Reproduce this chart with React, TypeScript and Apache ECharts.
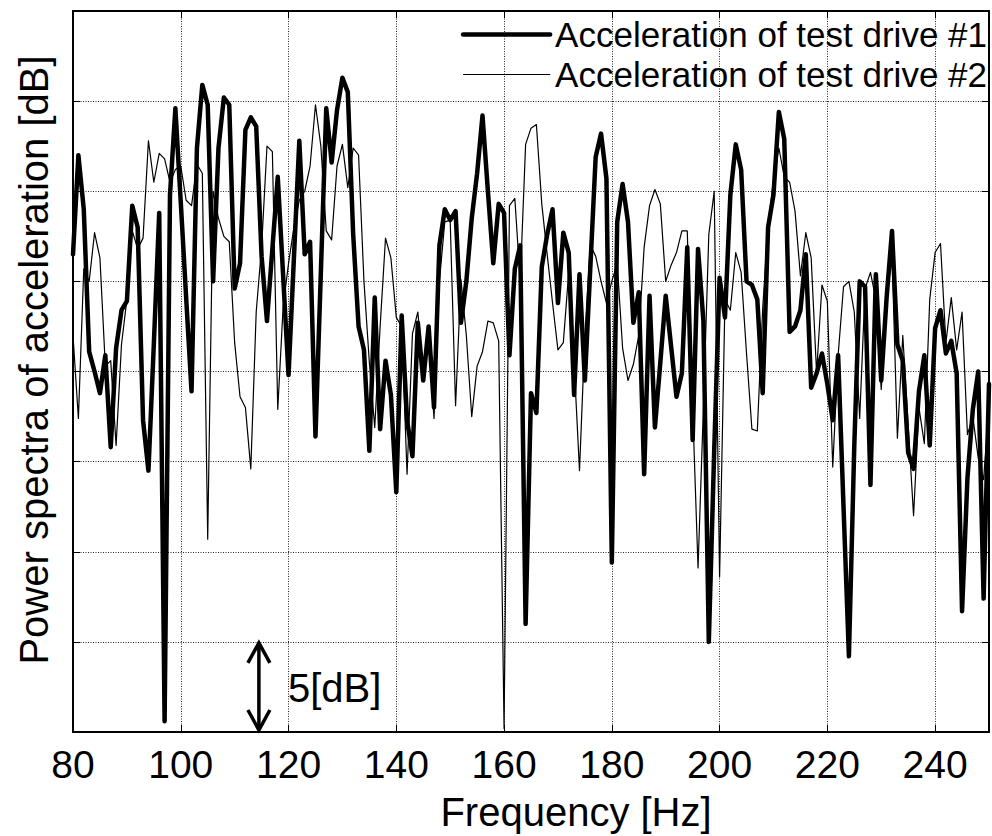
import React, { useEffect, useRef } from 'react';
import * as echarts from 'echarts';

// Frequency axis: one value per 1 Hz starting at 80 Hz
const FREQ_START = 80;
const FREQ_STEP = 1;

// Power spectra [dB] (relative), acceleration of test drive #1 (thick line)
const drive1 = [
  26.5, 32.0, 29.0, 21.1, 20.0, 18.8, 20.9, 15.8, 21.3, 23.4, // 80-89
  23.9, 29.2, 28.0, 17.3, 14.5, 21.5, 28.8, 0.6, 29.8, 34.6, // 90-99
  29.4, 24.1, 18.9, 32.4, 35.9, 34.8, 25.0, 32.4, 35.2, 34.8, // 100-109
  24.6, 26.0, 33.4, 34.1, 33.6, 26.4, 22.8, 26.8, 30.8, 25.3, // 110-119
  19.8, 26.3, 32.8, 26.5, 27.2, 16.4, 25.5, 34.6, 31.6, 34.5, // 120-129
  36.3, 35.5, 27.6, 22.5, 21.2, 15.6, 24.1, 16.8, 20.6, 18.7, // 130-139
  13.3, 23.1, 17.3, 15.3, 22.7, 19.5, 22.5, 18.0, 27.0, 29.0, // 140-149
  28.4, 28.9, 22.7, 25.0, 28.5, 31.0, 34.2, 30.0, 26.0, 29.3, // 150-159
  28.8, 20.9, 25.7, 27.0, 6.0, 18.8, 17.7, 25.8, 27.6, 29.0, // 160-169
  23.8, 27.7, 26.6, 18.7, 25.4, 19.5, 25.7, 31.9, 33.2, 30.7, // 170-179
  9.4, 28.3, 30.4, 28.3, 22.7, 24.4, 14.3, 24.2, 16.9, 20.5, // 180-189
  24.2, 21.4, 18.6, 19.9, 26.9, 16.2, 26.8, 22.8, 5.0, 15.6, // 190-199
  25.2, 23.0, 29.8, 32.6, 31.2, 25.0, 24.8, 24.0, 18.8, 28.0, // 200-209
  29.8, 34.4, 32.9, 22.2, 22.5, 23.4, 26.5, 19.1, 19.9, 21.0, // 210-219
  19.3, 17.3, 20.9, 12.5, 4.2, 15.9, 25.0, 24.7, 13.7, 25.4, // 220-229
  19.5, 24.1, 27.8, 21.5, 20.6, 15.5, 14.6, 18.9, 20.9, 15.9, // 230-239
  22.4, 23.4, 21.0, 21.7, 19.9, 6.7, 14.1, 17.9, 20.0, 7.4, // 240-249
  19.3, // 250
];

// Acceleration of test drive #2 (thin line)
const drive2 = [
  22.0, 17.4, 25.7, 25.0, 27.7, 26.3, 20.3, 20.6, 15.9, 21.5, // 80-89
  24.0, 27.8, 26.8, 27.4, 32.8, 30.5, 32.1, 31.8, 30.5, 31.2, // 90-99
  31.4, 29.5, 29.2, 31.5, 31.0, 10.7, 30.0, 28.5, 27.5, 27.2, // 100-109
  21.6, 18.6, 18.0, 14.6, 23.3, 26.9, 32.5, 32.2, 17.9, 23.6, // 110-119
  26.0, 28.0, 29.5, 30.0, 31.4, 34.8, 32.5, 27.8, 27.3, 31.4, // 120-129
  32.6, 30.2, 32.4, 32.0, 25.0, 20.5, 16.9, 22.5, 27.4, 26.3, // 130-139
  23.0, 22.5, 14.3, 22.1, 23.3, 20.0, 22.3, 17.4, 25.0, 28.3, // 140-149
  28.4, 18.1, 25.1, 22.0, 17.5, 20.3, 21.1, 22.8, 22.7, 21.7, // 150-159
  0.2, 29.2, 29.6, 25.0, 32.6, 33.5, 33.7, 29.3, 26.5, 23.8, // 160-169
  21.2, 21.6, 25.5, 20.5, 14.5, 22.0, 27.0, 26.4, 25.0, 23.8, // 170-179
  25.0, 26.0, 21.3, 19.5, 20.4, 22.0, 26.9, 29.2, 30.1, 29.3, // 180-189
  25.0, 25.9, 26.6, 27.8, 27.8, 18.0, 9.1, 18.0, 27.6, 30.0, // 190-199
  8.6, 24.0, 23.4, 26.6, 25.5, 21.0, 16.8, 16.7, 23.5, 28.1, // 200-209
  30.6, 32.4, 30.8, 30.5, 28.9, 25.3, 27.7, 26.3, 19.9, 24.8, // 210-219
  23.9, 14.7, 20.9, 24.7, 25.0, 23.3, 17.4, 24.6, 25.5, 24.0, // 220-229
  19.0, 24.0, 26.5, 16.3, 22.0, 17.0, 12.0, 18.0, 16.0, 24.0, // 230-239
  26.6, 27.1, 21.6, 24.1, 21.2, 23.3, 16.5, 17.5, 15.2, 14.0, // 240-249
  18.2, // 250
];

const SERIES_NAMES = ['Acceleration of test drive #1', 'Acceleration of test drive #2'];
const X_MIN = 80;
const X_MAX = 250;
const X_INTERVAL = 20;
const Y_MIN = 0;
const Y_MAX = 40;
const Y_INTERVAL = 5;
const X_NAME = 'Frequency [Hz]';
const Y_NAME = 'Power spectra of acceleration [dB]';
// scale bar annotation: 5 dB at ~114.5 Hz
const SCALE_FREQ = 114.5;
const SCALE_SPAN = 5;
const SCALE_LABEL = '5[dB]';

const FONT = "'Liberation Sans', Arial, Helvetica, sans-serif";
const THICK = 4.5;
const THIN = 1.2;

export default function App() {
  const ref = useRef<HTMLDivElement>(null);

  useEffect(() => {
    if (!ref.current) return;
    const chart = echarts.init(ref.current, null, { renderer: 'svg' });
    const d1 = drive1.map((v, i) => [FREQ_START + i * FREQ_STEP, v]);
    const d2 = drive2.map((v, i) => [FREQ_START + i * FREQ_STEP, v]);

    const gridLine = { show: true, lineStyle: { color: '#222', width: 1, type: [1, 1.5] } };
    const axisLine = { show: true, onZero: false, lineStyle: { color: '#000', width: 2 } };
    const tick = { show: true, inside: true, length: 7, lineStyle: { color: '#000', width: 1 } };

    chart.setOption({
      animation: false,
      backgroundColor: '#fff',
      grid: { left: 73, right: 3, top: 11, bottom: 104, containLabel: false },
      legend: {
        orient: 'vertical',
        right: 5,
        top: 17,
        padding: 0,
        itemGap: 5,
        itemWidth: 87,
        itemHeight: 14,
        itemStyle: { opacity: 0 },
        textStyle: { fontSize: 35, color: '#000', fontFamily: FONT, lineHeight: 35 },
        data: [
          { name: SERIES_NAMES[0], itemStyle: { opacity: 0 }, lineStyle: { width: THICK, color: '#000' } },
          { name: SERIES_NAMES[1], itemStyle: { opacity: 0 }, lineStyle: { width: THIN, color: '#000' } },
        ],
      },
      xAxis: [
        {
          type: 'value',
          position: 'bottom',
          min: X_MIN,
          max: X_MAX,
          interval: X_INTERVAL,
          axisLine,
          axisTick: tick,
          axisLabel: {
            show: true,
            showMaxLabel: false,
            fontSize: 39,
            color: '#000',
            fontFamily: FONT,
            margin: 13,
          },
          splitLine: gridLine,
        },
        {
          type: 'value',
          position: 'top',
          min: X_MIN,
          max: X_MAX,
          interval: X_INTERVAL,
          axisLine,
          axisTick: tick,
          axisLabel: { show: false },
          splitLine: { show: false },
        },
      ],
      yAxis: [
        {
          type: 'value',
          position: 'left',
          min: Y_MIN,
          max: Y_MAX,
          interval: Y_INTERVAL,
          axisLine,
          axisTick: tick,
          axisLabel: { show: false },
          splitLine: gridLine,
        },
        {
          type: 'value',
          position: 'right',
          min: Y_MIN,
          max: Y_MAX,
          interval: Y_INTERVAL,
          axisLine,
          axisTick: tick,
          axisLabel: { show: false },
          splitLine: { show: false },
        },
      ],
      series: [
        {
          name: SERIES_NAMES[1],
          type: 'line',
          data: d2,
          symbol: 'none',
          lineStyle: { color: '#000', width: THIN, join: 'round' },
          itemStyle: { color: '#000' },
          z: 2,
        },
        {
          name: SERIES_NAMES[0],
          type: 'line',
          data: d1,
          symbol: 'none',
          lineStyle: { color: '#000', width: THICK, join: 'round', cap: 'round' },
          itemStyle: { color: '#000' },
          z: 3,
        },
      ],
    });

    const p0 = chart.convertToPixel({ xAxisIndex: 0, yAxisIndex: 0 }, [SCALE_FREQ, Y_MIN]) as number[];
    const p1 = chart.convertToPixel({ xAxisIndex: 0, yAxisIndex: 0 }, [SCALE_FREQ, Y_MIN + SCALE_SPAN]) as number[];
    const ax = p0[0];
    const yb = p0[1] - 2;
    const yt = p1[1] + 1;
    const hw = 11;
    const hh = 20;
    const arrowStyle = { stroke: '#000', lineWidth: 3.5, fill: 'none', lineJoin: 'miter' };

    chart.setOption({
      graphic: [
        { type: 'line', shape: { x1: ax, y1: yt + 2, x2: ax, y2: yb - 2 }, style: arrowStyle, z: 10 },
        { type: 'polyline', shape: { points: [[ax - hw, yt + hh], [ax, yt], [ax + hw, yt + hh]] }, style: arrowStyle, z: 10 },
        { type: 'polyline', shape: { points: [[ax - hw, yb - hh], [ax, yb], [ax + hw, yb - hh]] }, style: arrowStyle, z: 10 },
        {
          type: 'text',
          x: ax + 29,
          y: (yb + yt) / 2 + 2,
          style: { text: SCALE_LABEL, font: `40px ${FONT}`, fill: '#000', verticalAlign: 'middle' },
          z: 10,
        },
        {
          type: 'text',
          x: 576,
          y: 812,
          style: { text: X_NAME, font: `40px ${FONT}`, fill: '#000', align: 'center', verticalAlign: 'middle' },
        },
        {
          type: 'text',
          x: 34,
          y: 360,
          rotation: Math.PI / 2,
          style: { text: Y_NAME, font: `40px ${FONT}`, fill: '#000', align: 'center', verticalAlign: 'middle' },
        },
      ],
    });

    return () => chart.dispose();
  }, []);

  return (
    <div
      ref={ref}
      style={{ position: 'fixed', left: 0, top: 0, width: 992, height: 836, background: '#fff' }}
    />
  );
}
